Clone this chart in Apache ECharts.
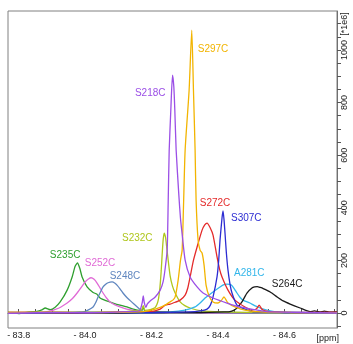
<!DOCTYPE html>
<html>
<head>
<meta charset="utf-8">
<script src="https://cdn.jsdelivr.net/npm/echarts@6/dist/echarts.min.js"></script>
<style>
  html, body { margin: 0; padding: 0; background: #fff; }
  #chart { width: 353px; height: 344px; }
</style>
</head>
<body>
<div id="chart"></div>
<script>
// Chemical shift ticks (ppm) and intensity ticks (x 1e6)
const xTickValues = [-83.80, -83.85, -83.90, -83.95, -84.00, -84.05, -84.10, -84.15, -84.20, -84.25,
                     -84.30, -84.35, -84.40, -84.45, -84.50, -84.55, -84.60, -84.65, -84.70, -84.75];
const xLabelValues = [-83.8, -84.0, -84.2, -84.4, -84.6];
const yTickValues = [-50, 0, 50, 100, 150, 200, 250, 300, 350, 400, 450, 500, 550, 600,
                     650, 700, 750, 800, 850, 900, 950, 1000, 1050, 1100];
const yLabelValues = [0, 200, 400, 600, 800, 1000];

// Spectra: [ppm, intensity]
const S235C = [[-83.768, 2], [-83.80, -2], [-83.83, 4], [-83.855, 6], [-83.87, 12], [-83.88, 19], [-83.895, 13],
  [-83.91, 22], [-83.925, 42], [-83.946, 87], [-83.961, 137], [-83.970, 178], [-83.977, 190], [-83.984, 170],
  [-83.991, 137], [-84.006, 99], [-84.024, 78], [-84.035, 72], [-84.045, 57], [-84.065, 46], [-84.084, 38],
  [-84.105, 30], [-84.126, 23], [-84.145, 15], [-84.157, 11], [-84.170, 8], [-84.175, 24], [-84.18, 6],
  [-84.22, 3], [-84.30, 1], [-84.40, 3], [-84.55, -1], [-84.758, 2]];

const S252C = [[-83.768, 1], [-83.82, 3], [-83.86, 2], [-83.886, 5], [-83.92, 18], [-83.946, 38], [-83.962, 55],
  [-83.976, 76], [-83.99, 100], [-84.0, 118], [-84.01, 129], [-84.018, 134], [-84.027, 128], [-84.036, 114],
  [-84.045, 95], [-84.054, 76], [-84.065, 56], [-84.075, 42], [-84.09, 31], [-84.105, 23], [-84.125, 15],
  [-84.145, 10], [-84.166, 4], [-84.25, 2], [-84.4, 0], [-84.758, 2]];

const S248C = [[-83.768, 0], [-83.85, 2], [-83.95, 1], [-83.994, 4], [-84.01, 12], [-84.024, 23], [-84.032, 40],
  [-84.039, 61], [-84.047, 82], [-84.054, 99], [-84.062, 109], [-84.069, 115], [-84.081, 118], [-84.09, 113],
  [-84.096, 106], [-84.105, 92], [-84.114, 76], [-84.125, 60], [-84.135, 48], [-84.147, 34], [-84.157, 23],
  [-84.167, 12], [-84.175, 5], [-84.25, 2], [-84.5, 1], [-84.758, 2]];

const S232C = [[-83.768, 3], [-83.9, 2], [-84.05, 3], [-84.12, 5], [-84.145, 8], [-84.17, 12], [-84.175, 28],
  [-84.18, 10], [-84.196, 13], [-84.21, 20], [-84.216, 32], [-84.221, 55], [-84.225, 95], [-84.229, 160],
  [-84.232, 225], [-84.235, 280], [-84.238, 304], [-84.242, 288], [-84.246, 245], [-84.251, 190], [-84.256, 140],
  [-84.263, 102], [-84.271, 76], [-84.286, 42], [-84.30, 28], [-84.316, 19], [-84.346, 9], [-84.406, 4],
  [-84.55, 2], [-84.758, 1]];

const S218C = [[-83.768, -1], [-83.9, 2], [-84.0, 1], [-84.106, 4], [-84.150, 6], [-84.165, 10], [-84.172, 40],
  [-84.175, 65], [-84.178, 40], [-84.183, 22], [-84.187, 34], [-84.195, 45], [-84.211, 61], [-84.226, 87],
  [-84.235, 120], [-84.241, 170], [-84.247, 240], [-84.250, 420], [-84.253, 616], [-84.258, 773], [-84.263, 904],
  [-84.267, 860], [-84.270, 770], [-84.274, 619], [-84.282, 450], [-84.287, 360], [-84.292, 300], [-84.301, 201],
  [-84.316, 137], [-84.337, 99], [-84.355, 76], [-84.385, 57], [-84.427, 38], [-84.466, 23], [-84.518, 11],
  [-84.557, 4], [-84.65, 2], [-84.758, 0]];

const S297C = [[-83.768, 1], [-83.9, 3], [-84.05, 2], [-84.166, 4], [-84.19, 8], [-84.211, 15], [-84.241, 30],
  [-84.255, 42], [-84.265, 50], [-84.271, 61], [-84.280, 125], [-84.287, 200], [-84.292, 239], [-84.296, 400],
  [-84.301, 619], [-84.313, 847], [-84.321, 1075], [-84.326, 850], [-84.331, 619], [-84.334, 429], [-84.340, 277],
  [-84.346, 239], [-84.352, 228], [-84.358, 182], [-84.364, 106], [-84.373, 65], [-84.385, 42], [-84.400, 38],
  [-84.410, 48], [-84.418, 61], [-84.424, 50], [-84.430, 38], [-84.451, 23], [-84.481, 11], [-84.527, 4],
  [-84.62, 2], [-84.758, 1]];

const S272C = [[-83.768, 2], [-83.95, 1], [-84.10, 3], [-84.196, 5], [-84.226, 15], [-84.241, 30], [-84.256, 34],
  [-84.265, 38], [-84.286, 49], [-84.301, 68], [-84.309, 95], [-84.316, 137], [-84.326, 200], [-84.337, 251],
  [-84.352, 315], [-84.360, 335], [-84.367, 342], [-84.376, 325], [-84.385, 296], [-84.397, 213], [-84.405, 165],
  [-84.412, 137], [-84.430, 87], [-84.451, 49], [-84.481, 23], [-84.502, 11], [-84.515, 15], [-84.524, 30],
  [-84.532, 14], [-84.542, 8], [-84.572, 4], [-84.65, 2], [-84.758, 3]];

const S307C = [[-83.768, 0], [-84.0, 2], [-84.2, 1], [-84.316, 4], [-84.346, 8], [-84.367, 15], [-84.377, 30],
  [-84.385, 61], [-84.397, 137], [-84.402, 200], [-84.406, 277], [-84.412, 361], [-84.415, 388], [-84.418, 355],
  [-84.421, 304], [-84.425, 230], [-84.430, 163], [-84.436, 110], [-84.442, 76], [-84.457, 30], [-84.481, 15],
  [-84.512, 4], [-84.6, 2], [-84.758, 1]];

const A281C = [[-83.768, 1], [-84.0, 2], [-84.2, 2], [-84.256, 4], [-84.301, 11], [-84.331, 23], [-84.346, 38],
  [-84.361, 57], [-84.385, 80], [-84.406, 99], [-84.418, 108], [-84.427, 110], [-84.436, 109], [-84.442, 104],
  [-84.450, 90], [-84.457, 76], [-84.466, 60], [-84.475, 49], [-84.496, 38], [-84.510, 28], [-84.527, 19],
  [-84.557, 8], [-84.587, 3], [-84.758, 1]];

const S264C = [[-83.768, 1], [-83.9, 2], [-84.1, 0], [-84.2, 3], [-84.346, 2], [-84.421, 4], [-84.436, 5],
  [-84.447, 10], [-84.457, 19], [-84.472, 42], [-84.487, 76], [-84.502, 95], [-84.510, 99], [-84.518, 100],
  [-84.527, 97], [-84.536, 93], [-84.557, 80], [-84.578, 61], [-84.596, 46], [-84.617, 34], [-84.647, 19],
  [-84.677, 5], [-84.69, 8], [-84.707, 4], [-84.72, 7], [-84.737, 3], [-84.758, 4]];

// Where each peak's name is written, in [ppm, intensity]
const labelAnchors = {
  S235C: [-83.940, 220], S252C: [-84.045, 190], S248C: [-84.120, 141], S232C: [-84.157, 285],
  S218C: [-84.196, 836], S297C: [-84.385, 1003], S272C: [-84.391, 418], S307C: [-84.485, 361],
  A281C: [-84.494, 152], S264C: [-84.608, 110]
};

const spectra = [
  { name: 'S235C', data: S235C, color: '#2f9f2f' },
  { name: 'S252C', data: S252C, color: '#e06ad6' },
  { name: 'S248C', data: S248C, color: '#5f86bf' },
  { name: 'S232C', data: S232C, color: '#afc61c' },
  { name: 'A281C', data: A281C, color: '#33b6ea' },
  { name: 'S264C', data: S264C, color: '#1a1a1a' },
  { name: 'S272C', data: S272C, color: '#e42b2b' },
  { name: 'S307C', data: S307C, color: '#2c2cd2' },
  { name: 'S297C', data: S297C, color: '#f2b400' },
  { name: 'S218C', data: S218C, color: '#9b4fe6' }
];

const FONT = 'Liberation Sans, Arial, sans-serif';
const chart = echarts.init(document.getElementById('chart'), null, { renderer: 'canvas' });

chart.setOption({
  animation: false,
  backgroundColor: '#fff',
  grid: { left: 8, right: 16, top: 11, bottom: 16, show: true, borderColor: '#808080', borderWidth: 1 },
  xAxis: {
    type: 'value', inverse: true, min: -84.758, max: -83.768,
    axisLine: { show: true, lineStyle: { color: '#707070', width: 1 } },
    axisTick: { show: true, inside: true, length: 4, customValues: xTickValues, lineStyle: { color: '#555' } },
    axisLabel: {
      customValues: xLabelValues, margin: 3, fontSize: 9, fontFamily: FONT, color: '#222',
      formatter: v => '- ' + Math.abs(v).toFixed(1)
    },
    splitLine: { show: false }
  },
  yAxis: {
    type: 'value', position: 'right', min: -57, max: 1148,
    axisLine: { show: true, lineStyle: { color: '#707070', width: 1 } },
    axisTick: { show: true, inside: false, length: 4, customValues: yTickValues, lineStyle: { color: '#555' } },
    axisLabel: {
      customValues: yLabelValues, rotate: 90, margin: 3, fontSize: 9, fontFamily: FONT, color: '#222',
      formatter: v => String(v)
    },
    splitLine: { show: false }
  },
  graphic: [
    { type: 'text', x: 339, y: 339, style: { text: '[ppm]', fontSize: 9, fontFamily: FONT, fill: '#222', align: 'right', verticalAlign: 'middle' } },
    { type: 'text', x: 345, y: 24, rotation: Math.PI / 2, style: { text: '[*1e6]', fontSize: 9, fontFamily: FONT, fill: '#222', align: 'center', verticalAlign: 'middle' } }
  ],
  series: spectra.map(s => ({
    type: 'line',
    name: s.name,
    data: s.data,
    symbol: 'none',
    smooth: 0.2,
    lineStyle: { color: s.color, width: 1.3 },
    itemStyle: { color: s.color },
    markPoint: {
      symbol: 'circle', symbolSize: 0, silent: true,
      data: [{ coord: labelAnchors[s.name], value: s.name }],
      label: { show: true, position: 'inside', formatter: s.name, color: s.color, fontSize: 10, fontFamily: FONT }
    }
  }))
});
</script>
</body>
</html>
